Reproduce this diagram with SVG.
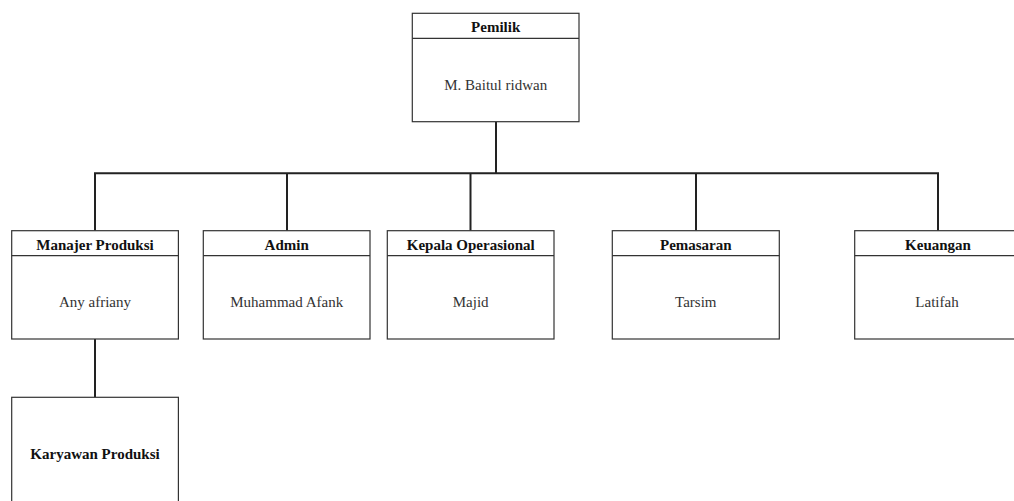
<svg xmlns="http://www.w3.org/2000/svg" width="1014" height="501" viewBox="0 0 1014 501">
<style>
.box{fill:#fff;stroke:#333;stroke-width:1.2}
.sep{stroke:#333;stroke-width:1.2}
text{font-family:'Liberation Serif','DejaVu Serif',serif;text-anchor:middle}
.hd{font-weight:bold;font-size:15px;fill:#111}
.bd{font-size:15px;fill:#333}
.con{fill:none;stroke:#222;stroke-width:2}
</style>
<rect width="1014" height="501" fill="#fff"/>
<g id="connectors">
<path class="con" d="M496 121.7V173.3M95 173.3H938M95 172.3V230.7M287 172.3V230.7M470.5 172.3V230.7M696 172.3V230.7M938 172.3V230.7M95 339V397.3"/>
</g>
<g id="pemilik">
<rect class="box" x="412.3" y="13.3" width="166.7" height="108.4"/>
<line class="sep" x1="412.3" y1="38.3" x2="579" y2="38.3"/>
<text class="hd" x="495.7" y="32.3">Pemilik</text>
<text class="bd" x="495.7" y="89.5">M. Baitul ridwan</text>
</g>
<g id="manajer-produksi">
<rect class="box" x="11.7" y="230.7" width="166.7" height="108.3"/>
<line class="sep" x1="11.7" y1="255.7" x2="178.4" y2="255.7"/>
<text class="hd" x="95" y="250">Manajer Produksi</text>
<text class="bd" x="95" y="306.5">Any afriany</text>
</g>
<g id="admin">
<rect class="box" x="203.3" y="230.7" width="166.7" height="108.3"/>
<line class="sep" x1="203.3" y1="255.7" x2="370" y2="255.7"/>
<text class="hd" x="286.7" y="250">Admin</text>
<text class="bd" x="286.7" y="306.5">Muhammad Afank</text>
</g>
<g id="kepala-operasional">
<rect class="box" x="387.3" y="230.7" width="166.7" height="108.3"/>
<line class="sep" x1="387.3" y1="255.7" x2="554" y2="255.7"/>
<text class="hd" x="470.7" y="250">Kepala Operasional</text>
<text class="bd" x="470.7" y="306.5">Majid</text>
</g>
<g id="pemasaran">
<rect class="box" x="612.3" y="230.7" width="167" height="108.3"/>
<line class="sep" x1="612.3" y1="255.7" x2="779.3" y2="255.7"/>
<text class="hd" x="695.8" y="250">Pemasaran</text>
<text class="bd" x="695.8" y="306.5">Tarsim</text>
</g>
<g id="keuangan">
<rect class="box" x="854.7" y="230.7" width="166.7" height="108.3"/>
<line class="sep" x1="854.7" y1="255.7" x2="1021.4" y2="255.7"/>
<text class="hd" x="938" y="250">Keuangan</text>
<text class="bd" x="937" y="306.5">Latifah</text>
</g>
<g id="karyawan-produksi">
<rect class="box" x="11.7" y="397.3" width="166.7" height="120"/>
<text class="hd" x="95" y="459.3">Karyawan Produksi</text>
</g>
</svg>
